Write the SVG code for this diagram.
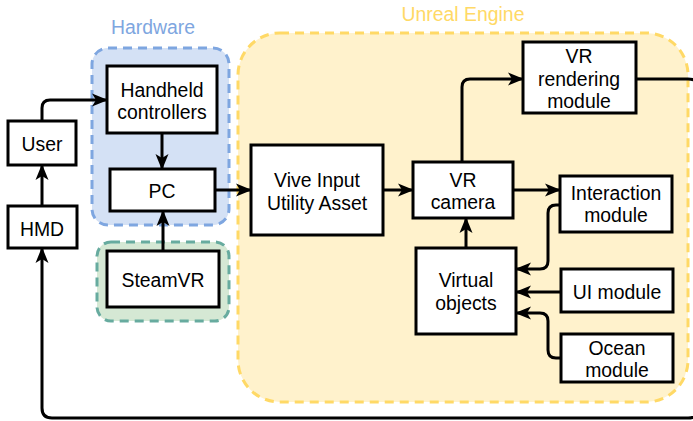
<svg xmlns="http://www.w3.org/2000/svg" width="693" height="421" viewBox="0 0 693 421">
<style>
text{font-family:"Liberation Sans",Arial,sans-serif;font-size:19.4px;fill:#000;text-anchor:middle}
.box{fill:#fff;stroke:#000;stroke-width:3}
.c{fill:none;stroke:#000;stroke-width:3}
</style>
<defs>
<marker id="a" markerUnits="userSpaceOnUse" markerWidth="16" markerHeight="14" viewBox="0 0 16 14" refX="15" refY="7" orient="auto">
<path d="M0,0.5 L16,7 L0,13.5 L4,7 Z" fill="#000"/>
</marker>
</defs>
<g id="grp-unreal">
<rect x="238" y="33" width="450" height="369" rx="42" fill="#fff2cc" stroke="#ffd966" stroke-width="3" stroke-dasharray="9 6"/>
<text x="463" y="21" style="fill:#ffd966">Unreal Engine</text>
</g>
<g id="grp-hardware">
<rect x="92" y="48" width="137" height="177" rx="16" fill="#d4e1f5" stroke="#7ea6e0" stroke-width="3" stroke-dasharray="9 6"/>
<text x="153" y="34" style="fill:#7ea6e0">Hardware</text>
</g>
<g id="grp-steam">
<rect x="97" y="242" width="132" height="79" rx="14" fill="#d5e8d4" stroke="#67ab9f" stroke-width="3" stroke-dasharray="9 6"/>
</g>
<g id="connectors">
<path class="c" d="M42,121 V108 Q42,100 50,100 H107" marker-end="url(#a)"/>
<path class="c" d="M162,133 V169" marker-end="url(#a)"/>
<path class="c" d="M163,251 V211" marker-end="url(#a)"/>
<path class="c" d="M215,190 H251" marker-end="url(#a)"/>
<path class="c" d="M42,206 V165" marker-end="url(#a)"/>
<path class="c" d="M636,79 H688 Q700,79 700,91 V406 Q700,418 688,418 H52 Q42,418 42,408 V248" marker-end="url(#a)"/>
<path class="c" d="M383,190 H413" marker-end="url(#a)"/>
<path class="c" d="M462,162 V87 Q462,79 470,79 H523" marker-end="url(#a)"/>
<path class="c" d="M513,190 H560" marker-end="url(#a)"/>
<path class="c" d="M560,205 H556 Q548,205 548,213 V261 Q548,269 540,269 H516" marker-end="url(#a)"/>
<path class="c" d="M561,292 H516" marker-end="url(#a)"/>
<path class="c" d="M561,358 H556 Q548,358 548,350 V321 Q548,313 540,313 H516" marker-end="url(#a)"/>
<path class="c" d="M466,248 V218" marker-end="url(#a)"/>
</g>
<g id="user"><rect class="box" x="8" y="121" width="68" height="44"/><text x="42" y="151">User</text></g>
<g id="hmd"><rect class="box" x="8" y="206" width="69" height="42"/><text x="42" y="236">HMD</text></g>
<g id="handheld"><rect class="box" x="107" y="66" width="110" height="67"/><text x="162" y="97">Handheld</text><text x="162" y="119">controllers</text></g>
<g id="pc"><rect class="box" x="110" y="169" width="105" height="42"/><text x="162" y="198">PC</text></g>
<g id="steamvr"><rect class="box" x="107" y="251" width="112" height="56"/><text x="163" y="287">SteamVR</text></g>
<g id="vive"><rect class="box" x="251" y="145" width="132" height="90"/><text x="317" y="187">Vive Input</text><text x="317" y="210">Utility Asset</text></g>
<g id="vrcamera"><rect class="box" x="413" y="162" width="100" height="56"/><text x="463" y="187">VR</text><text x="463" y="209">camera</text></g>
<g id="rendering"><rect class="box" x="523" y="42" width="113" height="71"/><text x="579" y="63">VR</text><text x="579" y="86">rendering</text><text x="579" y="108">module</text></g>
<g id="interaction"><rect class="box" x="560" y="176" width="112" height="56"/><text x="616" y="200">Interaction</text><text x="616" y="222">module</text></g>
<g id="virtual"><rect class="box" x="416" y="248" width="100" height="86"/><text x="466" y="287">Virtual</text><text x="466" y="310">objects</text></g>
<g id="ui"><rect class="box" x="561" y="269" width="112" height="43"/><text x="617" y="299">UI module</text></g>
<g id="ocean"><rect class="box" x="561" y="334" width="112" height="48"/><text x="617" y="355">Ocean</text><text x="617" y="377">module</text></g>
</svg>
